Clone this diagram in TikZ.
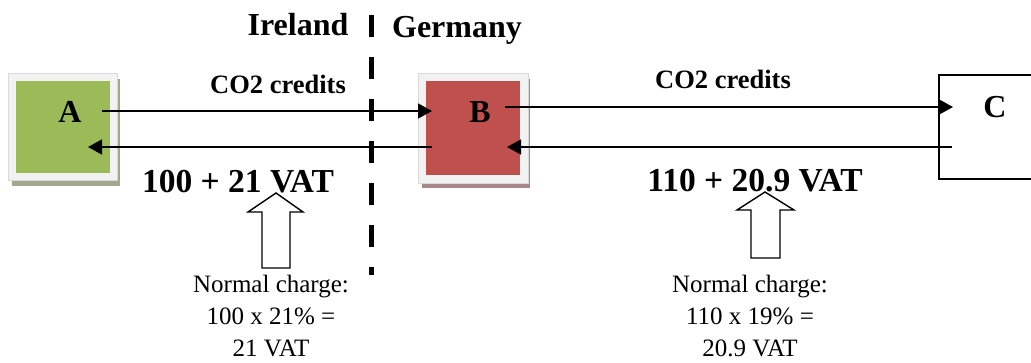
\documentclass[tikz,border=0pt]{standalone}
\usepackage{fontspec}
\setmainfont{Liberation Serif}
\usetikzlibrary{arrows.meta,calc}
\definecolor{greenA}{HTML}{9BBB59}
\definecolor{redB}{HTML}{C0504D}
\definecolor{frameC}{HTML}{F2F2F2}
\definecolor{frameE}{HTML}{DADADA}
\definecolor{shadowA}{HTML}{A2A88C}
\definecolor{shadowB}{HTML}{A88888}
\begin{document}
\begin{tikzpicture}[x=1pt,y=-1pt,
  arr/.style={line width=1.6pt,-{Triangle[length=14pt,width=15pt]}},
  country/.style={font=\bfseries\fontsize{32}{36}\selectfont,anchor=base,inner sep=0},
  credit/.style={font=\bfseries\fontsize{26.5}{30}\selectfont,anchor=base,inner sep=0},
  amount/.style={font=\bfseries\fontsize{33.5}{38}\selectfont,anchor=base,inner sep=0},
  letter/.style={font=\bfseries\fontsize{32}{36}\selectfont,anchor=base,inner sep=0},
  note/.style={font=\fontsize{25}{32}\selectfont,anchor=base,inner sep=0},
  colbox/.style={inner sep=0,minimum width=94pt},
  blockarrow/.style={draw,line width=1.4pt,fill=white,line join=miter}]
\useasboundingbox (0,0) rectangle (1031,362);

% country border
\draw[line width=5pt,dash pattern=on 22pt off 20pt] (371,15) -- (371,275);
\node[country] (ie) at (298,35) {Ireland};
\node[country] (de) at (457,37) {Germany};

% box A
\fill[shadowA] (12,79) rectangle (120,186);
\filldraw[fill=frameC,draw=frameE,line width=0.6pt] (8,73) rectangle (117,180);
\node[colbox,fill=greenA,minimum height=92pt] (A) at (63,127) {};
\node[letter] (Alab) at (70,122) {A};

% box B
\fill[shadowB] (422,79) rectangle (530,188);
\filldraw[fill=frameC,draw=frameE,line width=0.6pt] (418,73) rectangle (528,183);
\node[colbox,fill=redB,minimum height=94pt] (B) at (473,128) {};
\node[letter] (Blab) at (480,122) {B};

% box C
\draw[line width=2pt] (939,75) rectangle (1045,179);
\node[letter] (Clab) at (995,117) {C};

% connectors
\coordinate (a1) at (102,111);
\coordinate (b1) at (432,111);
\coordinate (b2) at (432,147);
\coordinate (a2) at (88,147);
\coordinate (b3) at (505,107);
\coordinate (c1) at (953,107);
\coordinate (c2) at (952,147);
\coordinate (b4) at (507,147);
\draw[arr] (a1) -- (b1);
\draw[arr] (b2) -- (a2);
\draw[arr] (b3) -- (c1);
\draw[arr] (c2) -- (b4);

\node[credit] (cr1) at (278,93) {CO2 credits};
\node[credit] (cr2) at (723,88) {CO2 credits};

\node[amount] (v1) at (238,192) {100 + 21 VAT};
\node[amount] (v2) at (755,191) {110 + 20.9 VAT};

% block arrows
\draw[blockarrow] (276,193) -- (303,212) -- (290,212) -- (290,268) -- (262,268) -- (262,212) -- (248,212) -- cycle;
\draw[blockarrow] (765,192) -- (794,210) -- (780,210) -- (780,258) -- (751,258) -- (751,210) -- (737,210) -- cycle;

% notes
\node[note] (n1a) at (271,292) {Normal charge:};
\node[note] (n1b) at (271,324) {100 x 21\% =};
\node[note] (n1c) at (271,356) {21 VAT};
\node[note] (n2a) at (750,292) {Normal charge:};
\node[note] (n2b) at (750,324) {110 x 19\% =};
\node[note] (n2c) at (750,356) {20.9 VAT};
\end{tikzpicture}
\end{document}
